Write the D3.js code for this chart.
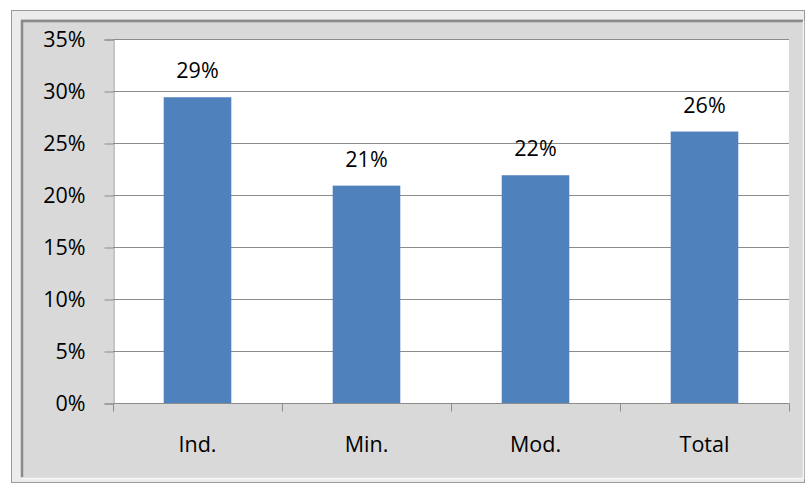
<!DOCTYPE html>
<html>
<head>
<meta charset="utf-8">
<script src="https://cdn.jsdelivr.net/npm/d3@7"></script>
<style>
  html, body { margin: 0; padding: 0; background: #ffffff; }
  svg { display: block; }
  text { font-family: "Open Sans", Lato, sans-serif; fill: #000; }
</style>
</head>
<body>
<svg id="chart" width="806" height="485"></svg>
<script>
// Share per group
const categories = ["Ind.", "Min.", "Mod.", "Total"];
const values = [0.294, 0.209, 0.219, 0.261];
const yTicks = [0, 0.05, 0.10, 0.15, 0.20, 0.25, 0.30, 0.35];

const FONT = "'Open Sans', Lato, sans-serif";
const FONT_SIZE = 21.5;

const svg = d3.select("#chart");

// Chart frame: outer light border, inner grey panel with an inset shadow
svg.append("rect")
  .attr("x", 11.5).attr("y", 10.5).attr("width", 793).attr("height", 472)
  .attr("fill", "#ececec").attr("stroke", "#9a9a9a").attr("stroke-width", 1);
svg.append("rect")
  .attr("x", 21).attr("y", 19).attr("width", 782).attr("height", 459)
  .attr("fill", "#d9d9d9");
svg.append("path")
  .attr("d", "M22,477 V21 H803")
  .attr("fill", "none").attr("stroke", "#8a8a8a").attr("stroke-width", 2.5);
svg.append("path")
  .attr("d", "M22,478.5 H803.5 V21")
  .attr("fill", "none").attr("stroke", "#f6f6f6").attr("stroke-width", 1.5);

const plot = { left: 113, right: 789, top: 39, bottom: 403 };

const x = d3.scaleBand()
  .domain(categories)
  .range([plot.left, plot.right])
  .paddingInner(0.6)
  .paddingOuter(0.3);

const y = d3.scaleLinear()
  .domain([0, 0.35])
  .range([plot.bottom, plot.top]);

// Plot area
svg.append("rect")
  .attr("x", plot.left).attr("y", plot.top)
  .attr("width", plot.right - plot.left).attr("height", plot.bottom - plot.top)
  .attr("fill", "#ffffff");

// Gridlines
svg.append("g")
  .selectAll("line")
  .data(yTicks.filter(d => d > 0))
  .join("line")
  .attr("x1", plot.left).attr("x2", plot.right)
  .attr("y1", d => Math.round(y(d)) + 0.5).attr("y2", d => Math.round(y(d)) + 0.5)
  .attr("stroke", "#8c8c8c").attr("stroke-width", 1);

// Bars
svg.append("g")
  .selectAll("rect")
  .data(categories)
  .join("rect")
  .attr("x", d => x(d))
  .attr("width", x.bandwidth())
  .attr("y", (d, i) => y(values[i]))
  .attr("height", (d, i) => y(0) - y(values[i]))
  .attr("fill", "#4f81bd");

// Value labels
const pct = d3.format(".0%");
svg.append("g")
  .selectAll("text")
  .data(categories)
  .join("text")
  .attr("x", d => x(d) + x.bandwidth() / 2)
  .attr("y", (d, i) => y(values[i]) - 19)
  .attr("text-anchor", "middle")
  .attr("font-family", FONT)
  .attr("font-size", FONT_SIZE)
  .text((d, i) => pct(values[i]));

// Y axis
const yAxis = d3.axisLeft(y)
  .tickValues(yTicks)
  .tickFormat(d3.format(".0%"))
  .tickSize(9)
  .tickPadding(19);
const gy = svg.append("g")
  .attr("transform", `translate(${plot.left + 0.5},0.5)`)
  .call(yAxis);
gy.select(".domain").attr("stroke", "#8c8c8c");
gy.selectAll(".tick line").attr("stroke", "#8c8c8c");
gy.selectAll(".tick text").attr("font-size", FONT_SIZE).attr("fill", "#000")
  .attr("font-family", FONT);

// X axis: ticks at category boundaries
const xAxis = d3.axisBottom(x).tickSize(0).tickPadding(33);
const gx = svg.append("g")
  .attr("transform", `translate(0,${plot.bottom + 0.5})`)
  .call(xAxis);
gx.select(".domain").attr("stroke", "#8c8c8c")
  .attr("d", `M${plot.left},0H${plot.right}`);
gx.selectAll(".tick text").attr("font-size", FONT_SIZE).attr("fill", "#000")
  .attr("font-family", FONT);

const boundaries = d3.range(categories.length + 1)
  .map(i => plot.left + i * (plot.right - plot.left) / categories.length);
gx.append("g")
  .selectAll("line")
  .data(boundaries)
  .join("line")
  .attr("x1", d => Math.round(d) + 0.5).attr("x2", d => Math.round(d) + 0.5)
  .attr("y1", 0).attr("y2", 8)
  .attr("stroke", "#8c8c8c");
</script>
</body>
</html>
